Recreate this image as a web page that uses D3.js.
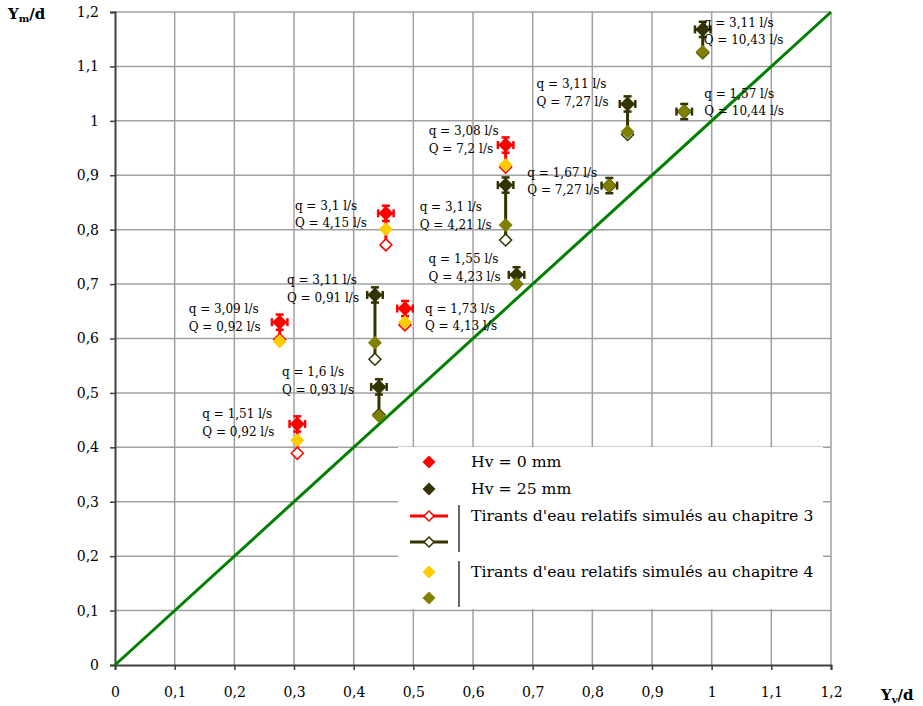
<!DOCTYPE html>
<html>
<head>
<meta charset="utf-8">
<script src="https://cdn.jsdelivr.net/npm/d3@7"></script>
<style>
  html, body { margin: 0; padding: 0; background: #ffffff; }
  svg { display: block; font-family: "DejaVu Serif", serif; }
</style>
</head>
<body>
<svg id="chart" width="923" height="706"></svg>
<script>
// ---------------- DATA ----------------
const xTicks = [0, 0.1, 0.2, 0.3, 0.4, 0.5, 0.6, 0.7, 0.8, 0.9, 1, 1.1, 1.2];
const yTicks = [0, 0.1, 0.2, 0.3, 0.4, 0.5, 0.6, 0.7, 0.8, 0.9, 1, 1.1, 1.2];
const hvSeries = [0, 0, 25, 25, 0, 0, 25, 0, 25, 25, 25, 25, 25];           // Hv (mm)
const qLabels  = ["3,09", "1,51", "3,11", "1,6", "3,1", "1,73", "3,1", "3,08", "1,55", "1,67", "3,11", "1,57", "3,11"];
const QLabels  = ["0,92", "0,92", "0,91", "0,93", "4,15", "4,13", "4,21", "7,2", "4,23", "7,27", "7,27", "10,44", "10,43"];
const yvOverD  = [0.276, 0.3055, 0.4357, 0.4424, 0.454, 0.486, 0.6547, 0.6547, 0.673, 0.8285, 0.859, 0.954, 0.985];
const ymMeasured = [0.630, 0.443, 0.680, 0.511, 0.830, 0.655, 0.882, 0.9555, 0.717, 0.881, 1.031, 1.017, 1.168];
const ymChap3    = [0.598, 0.389, 0.562, 0.460, 0.772, 0.625, 0.781, 0.915, 0.700, 0.880, 0.975, 1.017, 1.125];
const ymChap4    = [0.595, 0.413, 0.592, 0.4575, 0.8006, 0.630, 0.8085, 0.919, 0.700, 0.881, 0.980, 1.017, 1.127];
const xError = 0.013;
const yError = 0.014;
const legendLabels = ["Hv = 0 mm", "Hv = 25 mm", "Tirants d'eau relatifs simulés au chapitre 3", "Tirants d'eau relatifs simulés au chapitre 4"];

// ---------------- LAYOUT / STYLE ----------------
const labelOffsets = [[-91,-13],[-95,-10],[-88,-15],[-97,-15],[-91,-8],[20,0],[-86,22],[-77,-14],[-88,-16],[-82,-13],[-91,-20],[20,-18],[1,-7]];
const colMeas = {0: "#ff0000", 25: "#333300"};
const colCh4  = {0: "#ffcc00", 25: "#808000"};

const svg = d3.select("#chart");
const x = d3.scaleLinear().domain([0, 1.2]).range([115, 831]);
const y = d3.scaleLinear().domain([0, 1.2]).range([665, 12]);
const fmt = d => d === 0 ? "0" : (d === 1 ? "1" : d3.format(".1f")(d).replace(".", ","));

// gridlines
const grid = svg.append("g");
grid.selectAll("line.v").data(xTicks.slice(1)).join("line")
  .attr("x1", d => x(d)).attr("x2", d => x(d)).attr("y1", y(0)).attr("y2", y(1.2))
  .attr("stroke", "#a0a0a0").attr("stroke-width", 1.5);
grid.selectAll("line.h").data(yTicks.slice(1)).join("line")
  .attr("y1", d => y(d)).attr("y2", d => y(d)).attr("x1", x(0)).attr("x2", x(1.2))
  .attr("stroke", "#a0a0a0").attr("stroke-width", 1.5);

// axes
const xAxis = svg.append("g").attr("transform", `translate(0,${y(0)})`)
  .call(d3.axisBottom(x).tickValues(xTicks).tickFormat(fmt).tickSize(5).tickPadding(17));
const yAxis = svg.append("g").attr("transform", `translate(${x(0)},0)`)
  .call(d3.axisLeft(y).tickValues(yTicks).tickFormat(fmt).tickSize(5).tickPadding(11));
[xAxis, yAxis].forEach(a => {
  a.select(".domain").attr("stroke", "#404040").attr("stroke-width", 2);
  a.selectAll(".tick line").attr("stroke", "#404040").attr("stroke-width", 1.5);
  a.selectAll(".tick text").attr("font-family", "DejaVu Serif").attr("font-size", 14).attr("fill", "#000");
});

// diagonal y = x
svg.append("line")
  .attr("x1", x(0)).attr("y1", y(0)).attr("x2", x(1.2)).attr("y2", y(1.2))
  .attr("stroke", "#008000").attr("stroke-width", 3);

// diamond helper
const diamond = s => `M0,${-s}L${s},0L0,${s}L${-s},0Z`;
const idx = d3.range(yvOverD.length);

// chapter 3 connecting lines (measured -> simulated ch3)
svg.append("g").selectAll("line").data(idx).join("line")
  .attr("x1", i => x(yvOverD[i])).attr("x2", i => x(yvOverD[i]))
  .attr("y1", i => y(ymMeasured[i])).attr("y2", i => y(ymChap3[i]))
  .attr("stroke", i => colMeas[hvSeries[i]]).attr("stroke-width", 3);

// chapter 3 open diamonds
svg.append("g").selectAll("path").data(idx).join("path")
  .attr("transform", i => `translate(${x(yvOverD[i])},${y(ymChap3[i])})`)
  .attr("d", diamond(6)).attr("fill", "#fff")
  .attr("stroke", i => colMeas[hvSeries[i]]).attr("stroke-width", 1.5);

// measured points with error bars
const meas = svg.append("g").selectAll("g").data(idx).join("g")
  .attr("transform", i => `translate(${x(yvOverD[i])},${y(ymMeasured[i])})`);
meas.each(function(i) {
  const g = d3.select(this);
  const c = colMeas[hvSeries[i]];
  const ex = x(xError) - x(0), ey = y(0) - y(yError);
  const sw = 2.5, cap = 4;
  g.append("line").attr("x1", -ex).attr("x2", ex).attr("stroke", c).attr("stroke-width", sw);
  g.append("line").attr("y1", -ey).attr("y2", ey).attr("stroke", c).attr("stroke-width", sw);
  g.append("line").attr("x1", -ex).attr("x2", -ex).attr("y1", -cap).attr("y2", cap).attr("stroke", c).attr("stroke-width", sw);
  g.append("line").attr("x1", ex).attr("x2", ex).attr("y1", -cap).attr("y2", cap).attr("stroke", c).attr("stroke-width", sw);
  g.append("line").attr("y1", -ey).attr("y2", -ey).attr("x1", -cap).attr("x2", cap).attr("stroke", c).attr("stroke-width", sw);
  g.append("line").attr("y1", ey).attr("y2", ey).attr("x1", -cap).attr("x2", cap).attr("stroke", c).attr("stroke-width", sw);
  g.append("path").attr("d", diamond(7.5)).attr("fill", c);
});

// chapter 4 filled diamonds
svg.append("g").selectAll("path").data(idx).join("path")
  .attr("transform", i => `translate(${x(yvOverD[i])},${y(ymChap4[i])})`)
  .attr("d", diamond(7)).attr("fill", i => colCh4[hvSeries[i]]);

// annotations
const ann = svg.append("g").attr("font-size", 12).attr("fill", "#000").attr("font-family", "DejaVu Serif");
idx.forEach(i => {
  const px = x(yvOverD[i]) + labelOffsets[i][0];
  const py = y(ymMeasured[i]) + labelOffsets[i][1];
  ann.append("text").attr("x", px).attr("y", py).attr("dy", "0.35em").text(`q = ${qLabels[i]} l/s`);
  ann.append("text").attr("x", px).attr("y", py + 17.5).attr("dy", "0.35em").text(`Q = ${QLabels[i]} l/s`);
});

// legend
const lg = svg.append("g");
lg.append("rect").attr("x", 398).attr("y", 447).attr("width", 425).attr("height", 162).attr("fill", "#fff");
const lx = 429, tx = 471;
lg.append("path").attr("transform", `translate(${lx},462)`).attr("d", diamond(6.5)).attr("fill", colMeas[0]);
lg.append("path").attr("transform", `translate(${lx},489)`).attr("d", diamond(6.5)).attr("fill", colMeas[25]);
[[516, colMeas[0]], [542, colMeas[25]]].forEach(([yy, c]) => {
  lg.append("line").attr("x1", 410).attr("x2", 448).attr("y1", yy).attr("y2", yy).attr("stroke", c).attr("stroke-width", 3);
  lg.append("path").attr("transform", `translate(${lx},${yy})`).attr("d", diamond(5)).attr("fill", "#fff").attr("stroke", c).attr("stroke-width", 1.5);
});
lg.append("path").attr("transform", `translate(${lx},572)`).attr("d", diamond(6.5)).attr("fill", colCh4[0]);
lg.append("path").attr("transform", `translate(${lx},598)`).attr("d", diamond(6.5)).attr("fill", colCh4[25]);
lg.append("line").attr("x1", 459).attr("x2", 459).attr("y1", 505).attr("y2", 552).attr("stroke", "#000").attr("stroke-width", 1.2);
lg.append("line").attr("x1", 459).attr("x2", 459).attr("y1", 561).attr("y2", 607).attr("stroke", "#000").attr("stroke-width", 1.2);
const lt = lg.append("g").attr("font-size", 15.7).attr("fill", "#000").attr("font-family", "DejaVu Serif");
lt.append("text").attr("x", tx).attr("y", 462).attr("dy", "0.35em").text(legendLabels[0]);
lt.append("text").attr("x", tx).attr("y", 489).attr("dy", "0.35em").text(legendLabels[1]);
lt.append("text").attr("x", tx).attr("y", 516).attr("dy", "0.35em").text(legendLabels[2]);
lt.append("text").attr("x", tx).attr("y", 572).attr("dy", "0.35em").text(legendLabels[3]);

// axis titles
const t1 = svg.append("text").attr("x", 8).attr("y", 19).attr("font-size", 15).attr("font-weight", "bold");
t1.append("tspan").text("Y");
t1.append("tspan").attr("font-size", 10).attr("dy", 3).text("m");
t1.append("tspan").attr("dy", -3).text("/d");
const t2 = svg.append("text").attr("x", 881).attr("y", 700).attr("font-size", 15).attr("font-weight", "bold");
t2.append("tspan").text("Y");
t2.append("tspan").attr("font-size", 10).attr("dy", 3).text("v");
t2.append("tspan").attr("dy", -3).text("/d");
</script>
</body>
</html>
